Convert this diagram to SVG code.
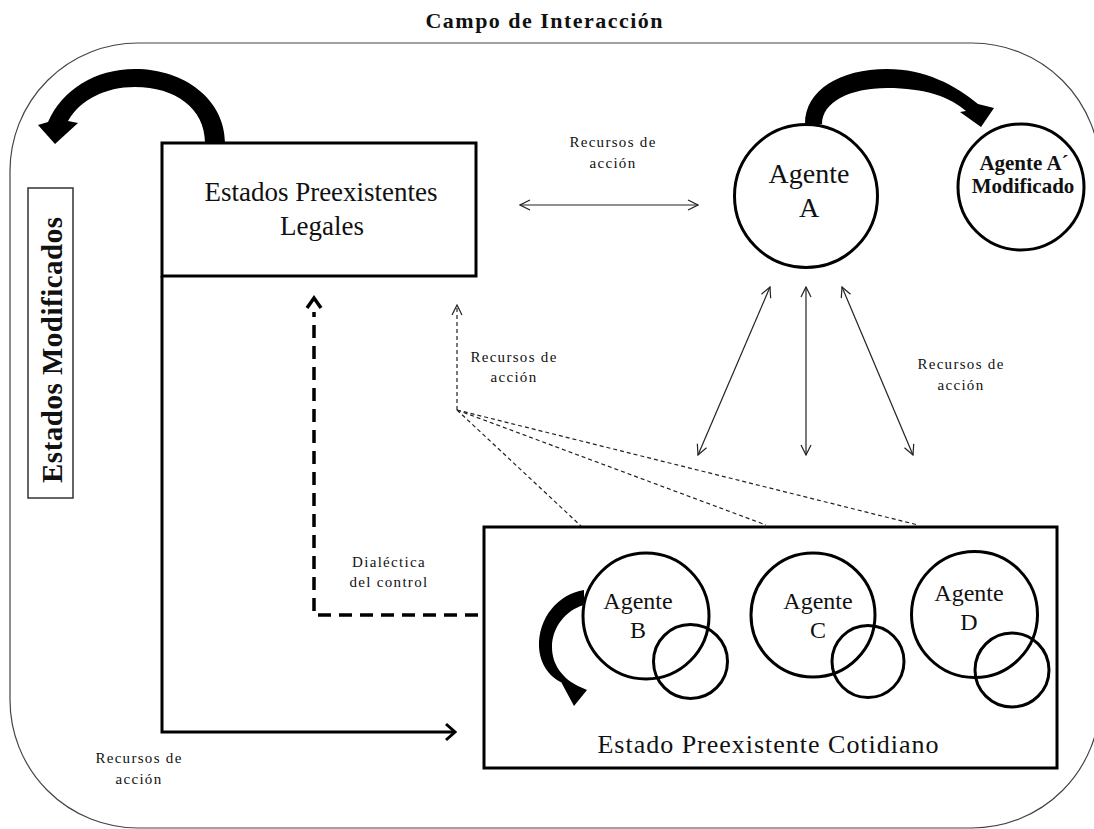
<svg xmlns="http://www.w3.org/2000/svg" width="1094" height="829" viewBox="0 0 1094 829">
<defs>
<style>
.t{font-family:"Liberation Serif","Times New Roman",serif;fill:#111;text-anchor:middle}
.lab{font-size:15px;letter-spacing:1.3px}
.thin{fill:none;stroke:#222;stroke-width:1.2}
.thick{fill:none;stroke:#000;stroke-width:3}
.blk{fill:#000;stroke:none}
.dash{fill:none;stroke:#222;stroke-width:1.2;stroke-dasharray:4 3}
.dashb{fill:none;stroke:#000;stroke-width:3.5;stroke-dasharray:13 8}
</style>
<marker id="v" viewBox="0 0 12 12" refX="11" refY="6" markerWidth="12" markerHeight="12" markerUnits="userSpaceOnUse" orient="auto-start-reverse">
<path d="M1,1 L11,6 L1,11" fill="none" stroke="#222" stroke-width="1.2"/>
</marker>
</defs>
<rect width="1094" height="829" fill="#fff"/>
<g id="campo">
<rect x="10" y="43" width="1090" height="785" rx="128" ry="128" fill="none" stroke="#444" stroke-width="1.2"/>
<text class="t" x="544" y="28" font-size="22" font-weight="bold" textLength="237" lengthAdjust="spacing">Campo de Interacción</text>
</g>
<g id="estados-modificados">
<rect x="28" y="188" width="45" height="310" fill="none" stroke="#333" stroke-width="1.5"/>
<text class="t" transform="translate(62,350) rotate(-90)" x="0" y="0" font-size="29" font-weight="bold" textLength="266" lengthAdjust="spacing">Estados Modificados</text>
</g>
<g id="legales">
<rect x="162" y="143" width="314" height="133" class="thick"/>
<text class="t" x="321" y="201" font-size="27">Estados Preexistentes</text>
<text class="t" x="322" y="235" font-size="27">Legales</text>
</g>
<g id="agente-a">
<circle cx="806" cy="196" r="71.5" class="thick"/>
<text class="t" x="809" y="183" font-size="28">Agente</text>
<text class="t" x="809" y="217" font-size="28">A</text>
</g>
<g id="agente-a-mod">
<circle cx="1021" cy="187" r="63" class="thick"/>
<text class="t" x="1024" y="170" font-size="21" font-weight="bold">Agente A´</text>
<text class="t" x="1023" y="193" font-size="21" font-weight="bold">Modificado</text>
</g>
<g id="cotidiano">
<rect x="484" y="527" width="573" height="241" class="thick"/>
<text class="t" x="768" y="753" font-size="26" textLength="341" lengthAdjust="spacing">Estado Preexistente Cotidiano</text>
</g>
<g id="agente-b">
<circle cx="646" cy="616" r="63" class="thick"/>
<circle cx="690.5" cy="661.5" r="37" class="thick"/>
<text class="t" x="638" y="609" font-size="24">Agente</text>
<text class="t" x="638" y="638" font-size="24">B</text>
</g>
<g id="agente-c">
<circle cx="813" cy="615" r="62" class="thick"/>
<circle cx="868" cy="661.5" r="36" class="thick"/>
<text class="t" x="818" y="609" font-size="24">Agente</text>
<text class="t" x="818" y="638" font-size="24">C</text>
</g>
<g id="agente-d">
<circle cx="974.5" cy="614.5" r="63" class="thick"/>
<circle cx="1012" cy="670" r="37" class="thick"/>
<text class="t" x="969" y="601" font-size="24">Agente</text>
<text class="t" x="969" y="630" font-size="24">D</text>
</g>
<g id="connectors">
<path class="blk" d="M225,143 C225,100 185,69 135,69 C95,69 62,90 48,122 L38,125 L55,144 L78,123 L68,121 C80,100 105,87 135,87 C175,87 205,108 205,143 Z"/>
<path class="blk" d="M805,124 C805,90 840,69 887,69 C925,69 955,85 978,104 L994,108 L981,127 L960,112 L966,111 C950,97 925,88 887,88 C850,88 822,102 822,124 Z"/>
<path class="blk" d="M584,590 C558,594 538,618 539,647 C540,665 550,678 565,684 L560,680 L574,706 L587,690 L578,686 C564,679 552,666 552,647 C552,627 566,610 584,605 Z"/>
<line x1="520" y1="205" x2="698" y2="205" class="thin" marker-start="url(#v)" marker-end="url(#v)"/>
<line x1="698" y1="455" x2="770" y2="287" class="thin" marker-start="url(#v)" marker-end="url(#v)"/>
<line x1="806" y1="455" x2="806" y2="287" class="thin" marker-start="url(#v)" marker-end="url(#v)"/>
<line x1="913" y1="455" x2="842" y2="287" class="thin" marker-start="url(#v)" marker-end="url(#v)"/>
<line x1="457" y1="410" x2="457" y2="305" class="dash" marker-end="url(#v)"/>
<line x1="457" y1="410" x2="581" y2="526" class="dash"/>
<line x1="457" y1="410" x2="766" y2="525" class="dash"/>
<line x1="457" y1="410" x2="918" y2="525" class="dash"/>
<path class="dashb" d="M478,615 L314,615 L314,312"/>
<polyline points="307,308 314,298 321,308" fill="none" stroke="#000" stroke-width="3.5"/>
<polyline points="162,276 162,732 454,732" class="thick"/>
<polyline points="446,724 455,732 446,740" fill="none" stroke="#000" stroke-width="3"/>
</g>
<g id="labels">
<text class="t lab" x="613" y="147">Recursos de</text>
<text class="t lab" x="613" y="168">acción</text>
<text class="t lab" x="514" y="362">Recursos de</text>
<text class="t lab" x="514" y="382">acción</text>
<text class="t lab" x="961" y="369">Recursos de</text>
<text class="t lab" x="961" y="390">acción</text>
<text class="t lab" x="389" y="567">Dialéctica</text>
<text class="t lab" x="389" y="587">del control</text>
<text class="t lab" x="139" y="763">Recursos de</text>
<text class="t lab" x="139" y="784">acción</text>
</g>
</svg>
